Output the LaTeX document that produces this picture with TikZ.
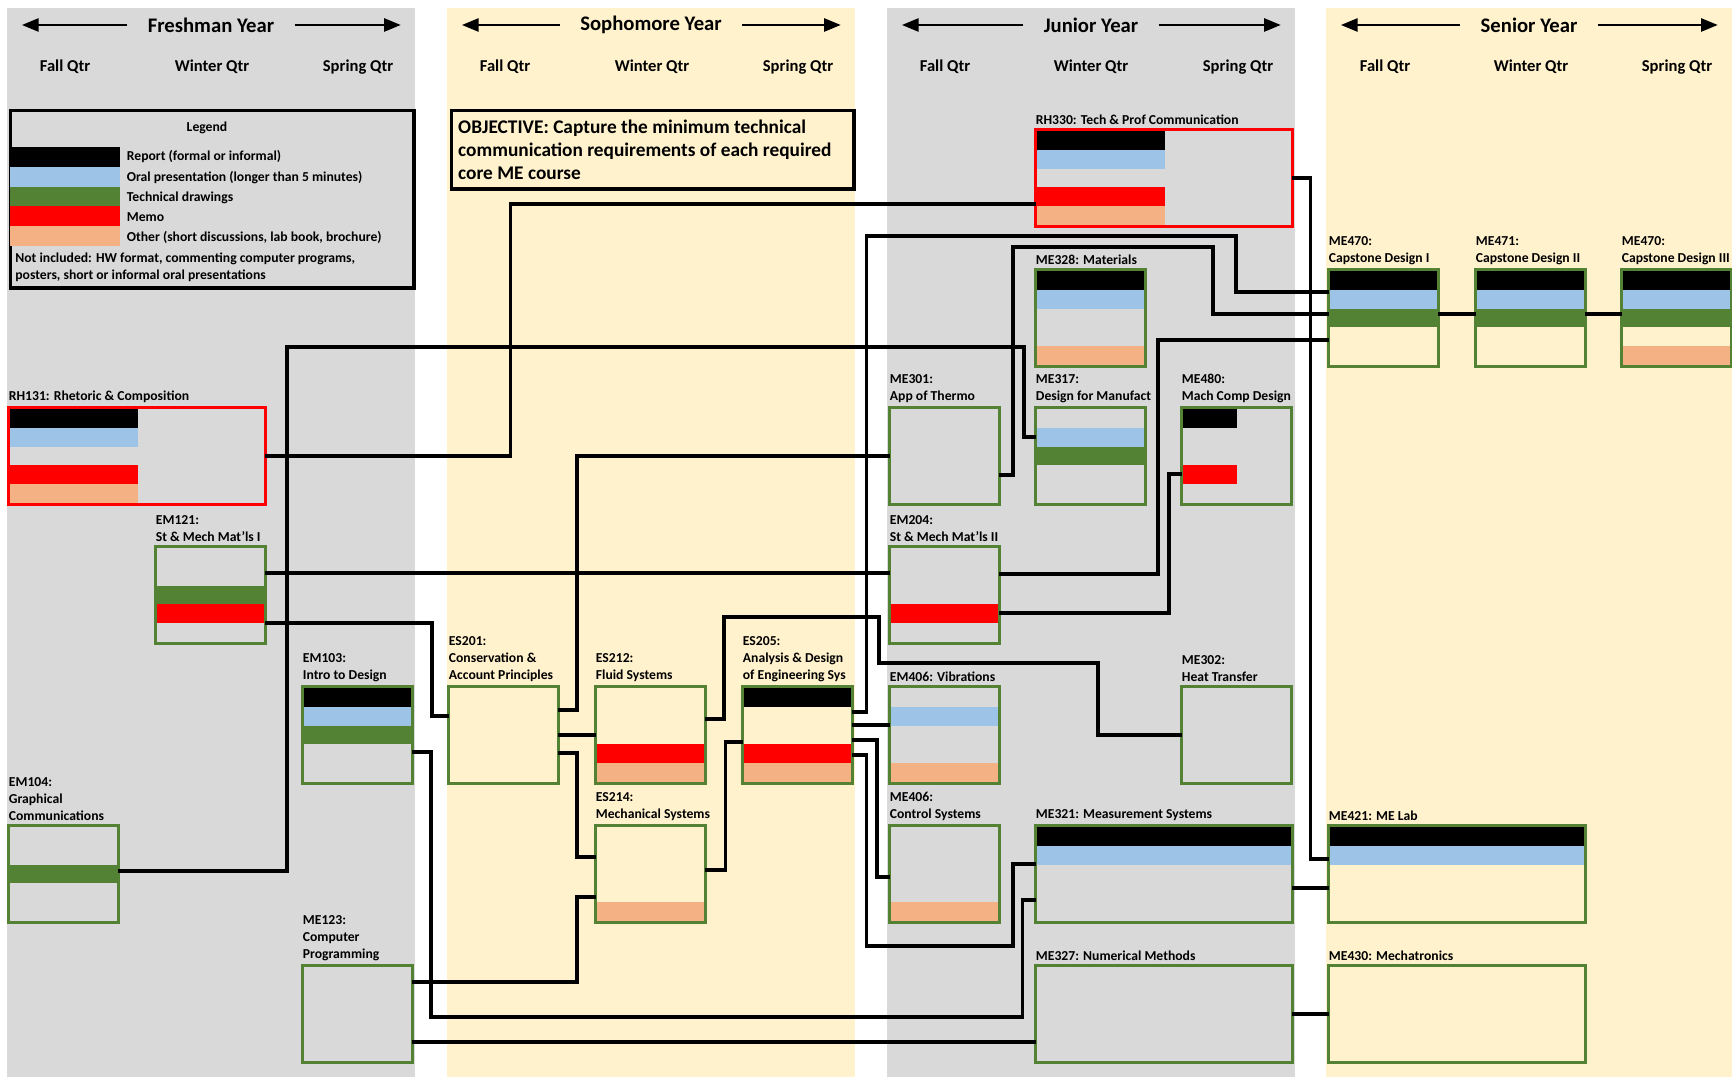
\documentclass[tikz,border=0pt]{standalone}
\usepackage{fontspec}
\setmainfont{Carlito}
\usetikzlibrary{positioning, arrows.meta, calc}

\definecolor{bandgray}{HTML}{D9D9D9}
\definecolor{bandcream}{HTML}{FFF2CC}
\definecolor{boxgreen}{HTML}{548235}
\definecolor{oralblue}{HTML}{9DC3E6}
\definecolor{drawgreen}{HTML}{548235}
\definecolor{memored}{HTML}{FF0000}
\definecolor{otherpeach}{HTML}{F4B183}

\begin{document}
\begin{tikzpicture}[
  x=0.018cm, y=-0.018cm, font=\bfseries,
  band/.style={anchor=north west, inner sep=0, minimum width=7.344cm, minimum height=19.3cm},
  yearlbl/.style={font=\fontsize{10.6}{12}\selectfont\bfseries, inner xsep=0.36cm, inner ysep=0},
  qtr/.style={font=\fontsize{8.5}{10}\selectfont\bfseries, inner sep=0},
  yeararrow/.style={-{Triangle[length=0.3cm, width=0.24cm]}, line width=0.9pt},
  boxframe/.style={draw, line width=1.7pt, anchor=north west, inner sep=0},
  legtxt/.style={anchor=base west, inner sep=0, font=\fontsize{7}{8.7}\selectfont\bfseries},
  course/.style={draw=boxgreen, line width=1.5pt, anchor=north west, inner sep=0, outer sep=0,
    minimum width=1.98cm, minimum height=1.746cm},
  wide/.style={minimum width=4.626cm},
  rhet/.style={draw=memored},
  lbl/.style={anchor=south west, inner sep=0, align=left, yshift=0.08cm,
    font=\fontsize{7}{8.7}\selectfont\bfseries},
  link/.style={line width=1.6pt}
]
\useasboundingbox (0,0) rectangle (1732,1077);

% year bands
\node[band, fill=bandgray] (fresh) at (7,8) {};
\node[band, fill=bandcream] (soph) at (447,8) {};
\node[band, fill=bandgray] (junior) at (887,8) {};
\node[band, fill=bandcream, minimum width=7.308cm] (senior) at (1326,8) {};

% year headings
\node[yearlbl] (fyear) at (211,25) {Freshman Year};
\draw[yeararrow] (fyear.west) -- ($(fyear.west -| fresh.west)+(15,0)$);
\draw[yeararrow] (fyear.east) -- ($(fyear.east -| fresh.east)+(-15,0)$);
\node[yearlbl] (syear) at (651,25) {Sophomore Year};
\draw[yeararrow] (syear.west) -- ($(syear.west -| soph.west)+(15,0)$);
\draw[yeararrow] (syear.east) -- ($(syear.east -| soph.east)+(-15,0)$);
\node[yearlbl] (jyear) at (1091,25) {Junior Year};
\draw[yeararrow] (jyear.west) -- ($(jyear.west -| junior.west)+(15,0)$);
\draw[yeararrow] (jyear.east) -- ($(jyear.east -| junior.east)+(-15,0)$);
\node[yearlbl] (nyear) at (1529,25) {Senior Year};
\draw[yeararrow] (nyear.west) -- ($(nyear.west -| senior.west)+(15,0)$);
\draw[yeararrow] (nyear.east) -- ($(nyear.east -| senior.east)+(-15,0)$);

% quarters
\node[qtr] (f1) at (65,67) {Fall Qtr};
\node[qtr] (f2) at (212,67) {Winter Qtr};
\node[qtr] (f3) at (358,67) {Spring Qtr};
\node[qtr] (s1) at (505,67) {Fall Qtr};
\node[qtr] (s2) at (652,67) {Winter Qtr};
\node[qtr] (s3) at (798,67) {Spring Qtr};
\node[qtr] (j1) at (945,67) {Fall Qtr};
\node[qtr] (j2) at (1091,67) {Winter Qtr};
\node[qtr] (j3) at (1238,67) {Spring Qtr};
\node[qtr] (n1) at (1385,67) {Fall Qtr};
\node[qtr] (n2) at (1531,67) {Winter Qtr};
\node[qtr] (n3) at (1677,67) {Spring Qtr};

% legend
\node[boxframe, minimum width=7.265cm, minimum height=3.197cm] (legend) at (8.7,108.7) {};
\node[legtxt, anchor=center] (legtitle) at (207,128) {Legend};
\fill[black] (10,147) rectangle (120,166.8);
\fill[oralblue] (10,166.8) rectangle (120,186.6);
\fill[drawgreen] (10,186.6) rectangle (120,206.4);
\fill[memored] (10,206.4) rectangle (120,226.2);
\fill[otherpeach] (10,226.2) rectangle (120,246);
\node[legtxt] (lrep) at (126.5,160.4) {Report (formal or informal)};
\node[legtxt] (loral) at (126.5,181.4) {Oral presentation (longer than 5 minutes)};
\node[legtxt] (ldraw) at (126.5,201.4) {Technical drawings};
\node[legtxt] (lmemo) at (126.5,221.4) {Memo};
\node[legtxt] (lother) at (126.5,241.4) {Other (short discussions, lab book, brochure)};
\node[legtxt, anchor=north west, align=left] (lnot) at (15,252.8)
  {Not included: HW format, commenting computer programs,\\posters, short or informal oral presentations};

% objective
\node[boxframe, align=flush left, text width=7.0cm, inner xsep=0.12cm, minimum width=7.247cm,
  minimum height=1.415cm, font=\fontsize{9.9}{11.8}\selectfont\bfseries] (objective) at (449.7,108.7)
  {OBJECTIVE: Capture the minimum technical\\communication requirements of each required\\core ME course};

% freshman courses
\node[course, wide, rhet] (rh131) at (8.5,407.5) {};
\node[lbl] (rh131t) at (rh131.north west) {RH131: Rhetoric \& Composition};
\node[course] (em121) at (155.5,546.5) {};
\node[lbl] (em121t) at (em121.north west) {EM121:\\St \& Mech Mat'ls I};
\node[course] (em103) at (302.5,686.5) {};
\node[lbl] (em103t) at (em103.north west) {EM103:\\Intro to Design};
\node[course] (em104) at (8.5,825.5) {};
\node[lbl] (em104t) at (em104.north west) {EM104:\\Graphical\\Communications};
\node[course] (me123) at (302.5,965.5) {};
\node[lbl] (me123t) at (me123.north west) {ME123:\\Computer\\Programming};

% sophomore courses
\node[course] (es201) at (448.5,686.5) {};
\node[lbl] (es201t) at (es201.north west) {ES201:\\Conservation \&\\Account Principles};
\node[course] (es212) at (595.5,686.5) {};
\node[lbl] (es212t) at (es212.north west) {ES212:\\Fluid Systems};
\node[course] (es214) at (595.5,825.5) {};
\node[lbl] (es214t) at (es214.north west) {ES214:\\Mechanical Systems};
\node[course] (es205) at (742.5,686.5) {};
\node[lbl] (es205t) at (es205.north west) {ES205:\\Analysis \& Design\\of Engineering Sys};

% junior courses
\node[course] (me301) at (889.5,407.5) {};
\node[lbl] (me301t) at (me301.north west) {ME301:\\App of Thermo};
\node[course] (em204) at (889.5,546.5) {};
\node[lbl] (em204t) at (em204.north west) {EM204:\\St \& Mech Mat'ls II};
\node[course] (em406) at (889.5,686.5) {};
\node[lbl] (em406t) at (em406.north west) {EM406: Vibrations};
\node[course] (me406) at (889.5,825.5) {};
\node[lbl] (me406t) at (me406.north west) {ME406:\\Control Systems};
\node[course, wide, rhet] (rh330) at (1035.5,129.5) {};
\node[lbl] (rh330t) at (rh330.north west) {RH330: Tech \& Prof Communication};
\node[course] (me328) at (1035.5,269.5) {};
\node[lbl] (me328t) at (me328.north west) {ME328: Materials};
\node[course] (me317) at (1035.5,407.5) {};
\node[lbl] (me317t) at (me317.north west) {ME317:\\Design for Manufact};
\node[course, wide] (me321) at (1035.5,825.5) {};
\node[lbl] (me321t) at (me321.north west) {ME321: Measurement Systems};
\node[course, wide] (me327) at (1035.5,965.5) {};
\node[lbl] (me327t) at (me327.north west) {ME327: Numerical Methods};
\node[course] (me480) at (1181.5,407.5) {};
\node[lbl] (me480t) at (me480.north west) {ME480:\\Mach Comp Design};
\node[course] (me302) at (1181.5,686.5) {};
\node[lbl] (me302t) at (me302.north west) {ME302:\\Heat Transfer};

% senior courses
\node[course] (me470) at (1328.5,269.5) {};
\node[lbl] (me470t) at (me470.north west) {ME470:\\Capstone Design I};
\node[course] (me471) at (1475.5,269.5) {};
\node[lbl] (me471t) at (me471.north west) {ME471:\\Capstone Design II};
\node[course] (me472) at (1621.5,269.5) {};
\node[lbl] (me472t) at (me472.north west) {ME470:\\Capstone Design III};
\node[course, wide] (me421) at (1328.5,825.5) {};
\node[lbl] (me421t) at (me421.north west) {ME421: ME Lab};
\node[course, wide] (me430) at (1328.5,965.5) {};
\node[lbl] (me430t) at (me430.north west) {ME430: Mechatronics};

% communication stripes
\fill[black] ($(rh131.north west)+(1.5,1.5)$) rectangle ++(128,18.8);
\fill[oralblue] ($(rh131.north west)+(1.5,20.3)$) rectangle ++(128,18.8);
\fill[memored] ($(rh131.north west)+(1.5,57.9)$) rectangle ++(128,18.8);
\fill[otherpeach] ($(rh131.north west)+(1.5,76.7)$) rectangle ++(128,18.8);
\fill[drawgreen] ($(em121.north west)+(1.5,39.1)$) rectangle ++(107,18.8);
\fill[memored] ($(em121.north west)+(1.5,57.9)$) rectangle ++(107,18.8);
\fill[black] ($(em103.north west)+(1.5,1.5)$) rectangle ++(107,18.8);
\fill[oralblue] ($(em103.north west)+(1.5,20.3)$) rectangle ++(107,18.8);
\fill[drawgreen] ($(em103.north west)+(1.5,39.1)$) rectangle ++(107,18.8);
\fill[drawgreen] ($(em104.north west)+(1.5,39.1)$) rectangle ++(107,18.8);
\fill[memored] ($(es212.north west)+(1.5,57.9)$) rectangle ++(107,18.8);
\fill[otherpeach] ($(es212.north west)+(1.5,76.7)$) rectangle ++(107,18.8);
\fill[otherpeach] ($(es214.north west)+(1.5,76.7)$) rectangle ++(107,18.8);
\fill[black] ($(es205.north west)+(1.5,1.5)$) rectangle ++(107,18.8);
\fill[memored] ($(es205.north west)+(1.5,57.9)$) rectangle ++(107,18.8);
\fill[otherpeach] ($(es205.north west)+(1.5,76.7)$) rectangle ++(107,18.8);
\fill[memored] ($(em204.north west)+(1.5,57.9)$) rectangle ++(107,18.8);
\fill[oralblue] ($(em406.north west)+(1.5,20.3)$) rectangle ++(107,18.8);
\fill[otherpeach] ($(em406.north west)+(1.5,76.7)$) rectangle ++(107,18.8);
\fill[otherpeach] ($(me406.north west)+(1.5,76.7)$) rectangle ++(107,18.8);
\fill[black] ($(rh330.north west)+(1.5,1.5)$) rectangle ++(128,18.8);
\fill[oralblue] ($(rh330.north west)+(1.5,20.3)$) rectangle ++(128,18.8);
\fill[memored] ($(rh330.north west)+(1.5,57.9)$) rectangle ++(128,18.8);
\fill[otherpeach] ($(rh330.north west)+(1.5,76.7)$) rectangle ++(128,18.8);
\fill[black] ($(me328.north west)+(1.5,1.5)$) rectangle ++(107,18.8);
\fill[oralblue] ($(me328.north west)+(1.5,20.3)$) rectangle ++(107,18.8);
\fill[otherpeach] ($(me328.north west)+(1.5,76.7)$) rectangle ++(107,18.8);
\fill[oralblue] ($(me317.north west)+(1.5,20.3)$) rectangle ++(107,18.8);
\fill[drawgreen] ($(me317.north west)+(1.5,39.1)$) rectangle ++(107,18.8);
\fill[black] ($(me480.north west)+(1.5,1.5)$) rectangle ++(54,18.8);
\fill[memored] ($(me480.north west)+(1.5,57.9)$) rectangle ++(54,18.8);
\fill[black] ($(me321.north west)+(1.5,1.5)$) rectangle ++(254,18.8);
\fill[oralblue] ($(me321.north west)+(1.5,20.3)$) rectangle ++(254,18.8);
\fill[black] ($(me470.north west)+(1.5,1.5)$) rectangle ++(107,18.8);
\fill[oralblue] ($(me470.north west)+(1.5,20.3)$) rectangle ++(107,18.8);
\fill[drawgreen] ($(me470.north west)+(1.5,39.1)$) rectangle ++(107,18.8);
\fill[black] ($(me471.north west)+(1.5,1.5)$) rectangle ++(107,18.8);
\fill[oralblue] ($(me471.north west)+(1.5,20.3)$) rectangle ++(107,18.8);
\fill[drawgreen] ($(me471.north west)+(1.5,39.1)$) rectangle ++(107,18.8);
\fill[black] ($(me472.north west)+(1.5,1.5)$) rectangle ++(107,18.8);
\fill[oralblue] ($(me472.north west)+(1.5,20.3)$) rectangle ++(107,18.8);
\fill[drawgreen] ($(me472.north west)+(1.5,39.1)$) rectangle ++(107,18.8);
\fill[otherpeach] ($(me472.north west)+(1.5,76.7)$) rectangle ++(107,18.8);
\fill[black] ($(me421.north west)+(1.5,1.5)$) rectangle ++(254,18.8);
\fill[oralblue] ($(me421.north west)+(1.5,20.3)$) rectangle ++(254,18.8);

% prerequisite links
\draw[link] (rh131.east) -- ++(245.5,0) |- ($(rh330.west)+(0,26)$);
\draw[link] (rh330.east) -- ++(18.5,0) |- ($(me421.west)+(0,-15)$);
\draw[link] ($(em104.east)+(0,-3)$) -- ++(168.5,0) -- ++(0,-524) -- ++(737,0) |- ($(me317.west)+(0,-19)$);
\draw[link] ($(em121.east)+(0,-22)$) -- ($(em204.west)+(0,-22)$);
\draw[link] ($(em121.east)+(0,28)$) -- ++(166.5,0) |- ($(es201.west)+(0,-19)$);
\draw[link] ($(em103.east)+(0,17)$) -- ++(18.5,0) -- ++(0,265) -- ++(591.5,0) |- ($(me321.west)+(0,26)$);
\draw[link] ($(me123.east)+(0,-32)$) -- ++(164.5,0) |- ($(es214.west)+(0,23)$);
\draw[link] ($(me123.east)+(0,28)$) -- ($(me327.west)+(0,28)$);
\draw[link] ($(es201.east)+(0,-25)$) -- ++(18.5,0) |- (me301.west);
\draw[link] (es201.east) -- (es212.west);
\draw[link] ($(es201.east)+(0,18)$) -- ++(18.5,0) |- ($(es214.west)+(0,-17)$);
\draw[link] ($(es212.east)+(0,-16)$) -- ++(18.5,0) -- ++(0,-102) -- ++(155,0) -- ++(0,46) -- ++(219,0) |- (me302.west);
\draw[link] ($(es214.east)+(0,-4)$) -- ++(20,0) |- ($(es205.west)+(0,7)$);
\draw[link] ($(es205.east)+(0,-23)$) -- ++(14,0) -- ++(0,-476) -- ++(369.5,0) |- ($(me470.west)+(0,-26)$);
\draw[link] ($(es205.east)+(0,-10)$) -- ($(em406.west)+(0,-10)$);
\draw[link] ($(es205.east)+(0,5)$) -- ++(24.5,0) |- ($(me406.west)+(0,3)$);
\draw[link] ($(es205.east)+(0,20)$) -- ++(14,0) -- ++(0,191) -- ++(146.5,0) |- ($(me321.west)+(0,-10)$);
\draw[link] ($(me301.east)+(0,19)$) -- ++(13.5,0) -- ++(0,-228) -- ++(200,0) |- ($(me470.west)+(0,-4)$);
\draw[link] ($(em204.east)+(0,-21)$) -- ++(158.5,0) |- ($(me470.west)+(0,22)$);
\draw[link] ($(em204.east)+(0,18)$) -- ++(169.5,0) |- ($(me480.west)+(0,18)$);
\draw[link] ($(me470.east)+(0,-4)$) -- ($(me471.west)+(0,-4)$);
\draw[link] ($(me471.east)+(0,-4)$) -- ($(me472.west)+(0,-4)$);
\draw[link] ($(me321.east)+(0,14)$) -- ($(me421.west)+(0,14)$);
\draw[link] (me327.east) -- (me430.west);

\end{tikzpicture}
\end{document}
